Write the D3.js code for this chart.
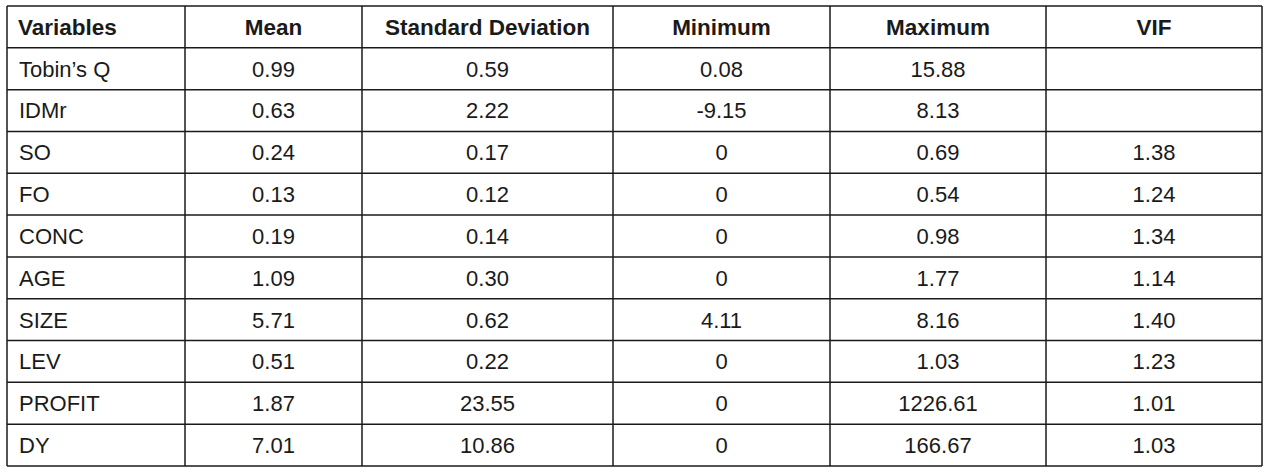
<!DOCTYPE html>
<html>
<head>
<meta charset="utf-8">
<script src="https://cdn.jsdelivr.net/npm/d3@7"></script>
<style>
  body { margin: 0; background: #fff; }
  svg { display: block; }
  text { font-family: "Liberation Sans", Arial, sans-serif; fill: #1a1a1a; }
</style>
</head>
<body>
<div id="chart"></div>
<script>
// Table content
const headers = ["Variables", "Mean", "Standard Deviation", "Minimum", "Maximum", "VIF"];
const variables = ["Tobin\u2019s Q", "IDMr", "SO", "FO", "CONC", "AGE", "SIZE", "LEV", "PROFIT", "DY"];
const means = ["0.99", "0.63", "0.24", "0.13", "0.19", "1.09", "5.71", "0.51", "1.87", "7.01"];
const stdDevs = ["0.59", "2.22", "0.17", "0.12", "0.14", "0.30", "0.62", "0.22", "23.55", "10.86"];
const minimums = ["0.08", "-9.15", "0", "0", "0", "0", "4.11", "0", "0", "0"];
const maximums = ["15.88", "8.13", "0.69", "0.54", "0.98", "1.77", "8.16", "1.03", "1226.61", "166.67"];
const vifs = ["", "", "1.38", "1.24", "1.34", "1.14", "1.40", "1.23", "1.01", "1.03"];

const width = 1271, height = 472;
// column edges (layout)
const colEdges = [7, 185, 362, 613, 830, 1046, 1262];
const tableTop = 6, tableBottom = 466;

const columns = [variables, means, stdDevs, minimums, maximums, vifs];
const rows = variables.map((v, i) => columns.map(c => c[i]));
const allRows = [headers, ...rows];

const y = d3.scaleBand()
    .domain(d3.range(allRows.length))
    .range([tableTop, tableBottom]);

const svg = d3.select("#chart").append("svg")
    .attr("width", width)
    .attr("height", height);

// text
const rowG = svg.append("g")
    .selectAll("g")
    .data(allRows)
    .enter().append("g")
    .attr("transform", (d, i) => `translate(0,${y(i) + y.bandwidth() / 2})`);

rowG.selectAll("text")
    .data((d, i) => d.map((v, j) => ({ v, j, header: i === 0 })))
    .enter().append("text")
    .attr("x", d => d.j === 0 ? colEdges[0] + (d.header ? 11 : 12) : (colEdges[d.j] + colEdges[d.j + 1]) / 2)
    .attr("dy", "0.36em")
    .attr("text-anchor", d => d.j === 0 ? "start" : "middle")
    .style("font-size", d => d.header ? "22.5px" : "22px")
    .style("font-weight", d => d.header ? "bold" : "normal")
    .text(d => d.v);

// grid lines
const grid = svg.append("g")
    .attr("stroke", "#1a1a1a")
    .attr("stroke-width", 1.5);

grid.selectAll(".h")
    .data(d3.range(allRows.length + 1))
    .enter().append("line")
    .attr("x1", colEdges[0]).attr("x2", colEdges[colEdges.length - 1])
    .attr("y1", i => i < allRows.length ? y(i) : tableBottom)
    .attr("y2", i => i < allRows.length ? y(i) : tableBottom);

grid.selectAll(".v")
    .data(colEdges)
    .enter().append("line")
    .attr("x1", d => d).attr("x2", d => d)
    .attr("y1", tableTop).attr("y2", tableBottom);
</script>
</body>
</html>
